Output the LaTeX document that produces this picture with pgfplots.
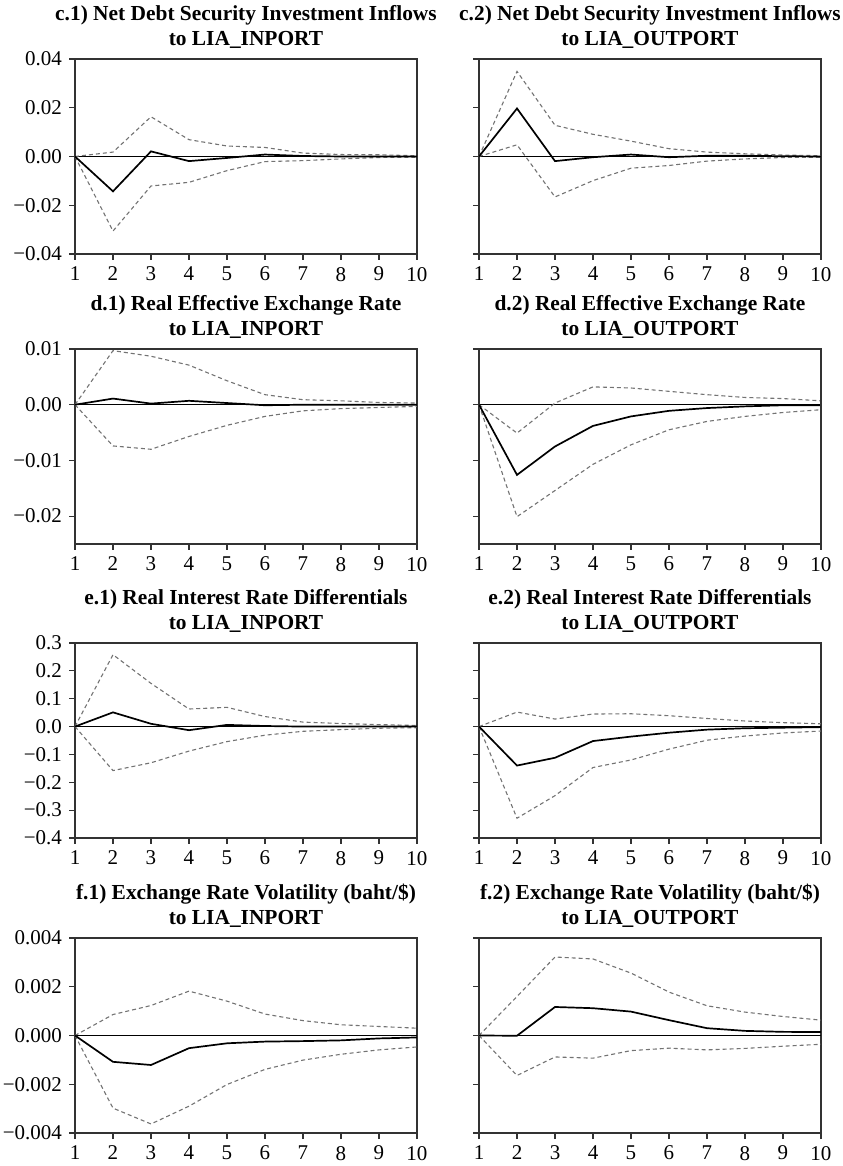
\documentclass[border=0pt]{standalone}
\usepackage{fontspec}
\setmainfont{Liberation Serif}
\usepackage{pgfplots}
\usepackage{pgfplotstable}
\pgfplotsset{compat=1.18}

\definecolor{bandgray}{RGB}{115,115,115}
\definecolor{framegray}{RGB}{50,50,50}

% h mid up lo
\pgfplotstableread{
h mid up lo
1 0 0 0
2 -0.0143 0.0018 -0.0306
3 0.0021 0.0163 -0.0121
4 -0.0019 0.0069 -0.0106
5 -0.0006 0.0043 -0.0058
6 0.0008 0.0037 -0.0021
7 0.0002 0.0014 -0.0017
8 0.0000 0.0008 -0.0010
9 0.0000 0.0007 -0.0004
10 0.0000 0.0003 -0.0003
}\tcone
\pgfplotstableread{
h mid up lo
1 0 0 0
2 0.0197 0.0349 0.0048
3 -0.0019 0.0128 -0.0166
4 -0.0003 0.0091 -0.0099
5 0.0008 0.0063 -0.0048
6 -0.0003 0.0032 -0.0037
7 0.0003 0.0018 -0.0019
8 0.0003 0.0011 -0.0010
9 0.0001 0.0006 -0.0004
10 0.0000 0.0003 -0.0003
}\tctwo
\pgfplotstableread{
h mid up lo
1 0 0 0
2 0.0011 0.0097 -0.0074
3 0.0002 0.0087 -0.0080
4 0.0007 0.0071 -0.0057
5 0.0003 0.0043 -0.0037
6 -0.0001 0.0018 -0.0021
7 0.0000 0.0009 -0.0011
8 0.0000 0.0007 -0.0007
9 0.0000 0.0004 -0.0005
10 0.0000 0.0003 -0.0003
}\tdone
\pgfplotstableread{
h mid up lo
1 0 0 0
2 -0.0126 -0.0051 -0.0201
3 -0.0075 0.0003 -0.0154
4 -0.0038 0.0032 -0.0107
5 -0.0021 0.0030 -0.0072
6 -0.0011 0.0024 -0.0045
7 -0.0006 0.0018 -0.0030
8 -0.0003 0.0013 -0.0021
9 -0.0001 0.0011 -0.0014
10 -0.0001 0.0007 -0.0009
}\tdtwo
\pgfplotstableread{
h mid up lo
1 0 0 0
2 0.051 0.258 -0.158
3 0.010 0.155 -0.130
4 -0.013 0.063 -0.088
5 0.006 0.069 -0.054
6 0.002 0.036 -0.031
7 0.000 0.016 -0.017
8 0.000 0.011 -0.011
9 0.000 0.007 -0.006
10 0.000 0.004 -0.004
}\teone
\pgfplotstableread{
h mid up lo
1 0 0 0
2 -0.140 0.052 -0.329
3 -0.112 0.027 -0.248
4 -0.052 0.045 -0.147
5 -0.036 0.046 -0.120
6 -0.022 0.039 -0.081
7 -0.011 0.029 -0.049
8 -0.006 0.020 -0.034
9 -0.004 0.014 -0.023
10 -0.002 0.010 -0.016
}\tetwo
\pgfplotstableread{
h mid up lo
1 0 0 0
2 -0.00108 0.00086 -0.00298
3 -0.00121 0.00123 -0.00363
4 -0.00052 0.00182 -0.00290
5 -0.00032 0.00141 -0.00201
6 -0.00025 0.00088 -0.00139
7 -0.00023 0.00061 -0.00101
8 -0.00020 0.00044 -0.00077
9 -0.00012 0.00037 -0.00059
10 -0.00008 0.00030 -0.00047
}\tfone
\pgfplotstableread{
h mid up lo
1 0 0 0
2 -0.00001 0.00160 -0.00164
3 0.00117 0.00322 -0.00088
4 0.00112 0.00314 -0.00093
5 0.00098 0.00256 -0.00062
6 0.00063 0.00178 -0.00052
7 0.00030 0.00122 -0.00059
8 0.00019 0.00096 -0.00053
9 0.00015 0.00078 -0.00044
10 0.00014 0.00063 -0.00036
}\tftwo

\pgfplotsset{
  irf/.style={
    scale only axis, width=171pt, height=97.5pt,
    anchor=south west,
    xmin=1, xmax=10, xtick={1,...,10},
    scaled y ticks=false,
    tick align=outside, tick pos=left,
    major tick length=3pt,
    axis line style={framegray, line width=0.6pt},
    tick style={framegray, line width=0.6pt},
    tick label style={font=\fontsize{10.5}{12}\selectfont},
    /pgf/number format/assume math mode=true,
    title style={font=\bfseries\fontsize{10.7}{12.5}\selectfont, align=center,
      anchor=south, inner sep=0pt, yshift=-1pt},
  },
  mid/.style={black, line width=0.85pt},
  band/.style={bandgray, dash pattern=on 2pt off 1.5pt, line width=0.55pt},
  zero/.style={black, line width=0.5pt},
  cax/.style={ymin=-0.04, ymax=0.04, ytick={-0.04,-0.02,0,0.02,0.04}},
  dax/.style={ymin=-0.025, ymax=0.01, ytick={-0.02,-0.01,0,0.01}},
  eax/.style={ymin=-0.4, ymax=0.3, ytick={-0.4,-0.3,-0.2,-0.1,0,0.1,0.2,0.3}},
  fax/.style={ymin=-0.004, ymax=0.004, ytick={-0.004,-0.002,0,0.002,0.004}},
}

\newcommand{\irfplots}[1]{%
  \addplot[zero] coordinates {(1,0) (10,0)};
  \addplot[band] table[x=h, y=up] {#1};
  \addplot[band] table[x=h, y=lo] {#1};
  \addplot[mid] table[x=h, y=mid] {#1};
}

\begin{document}
\begin{tikzpicture}
\useasboundingbox (0,0) rectangle (421pt,583pt);

\begin{axis}[irf, cax, at={(37.5pt,456pt)},
  yticklabels={−0.04,−0.02,0.00,0.02,0.04},
  title={c.1) Net Debt Security Investment Inflows\\to LIA\_INPORT}]
\irfplots{\tcone}
\end{axis}
\begin{axis}[irf, cax, at={(239.5pt,456pt)}, yticklabels={},
  title={c.2) Net Debt Security Investment Inflows\\to LIA\_OUTPORT}]
\irfplots{\tctwo}
\end{axis}

\begin{axis}[irf, dax, at={(37.5pt,311pt)},
  yticklabels={−0.02,−0.01,0.00,0.01},
  title={d.1) Real Effective Exchange Rate\\to LIA\_INPORT}]
\irfplots{\tdone}
\end{axis}
\begin{axis}[irf, dax, at={(239.5pt,311pt)}, yticklabels={},
  title={d.2) Real Effective Exchange Rate\\to LIA\_OUTPORT}]
\irfplots{\tdtwo}
% this panel's frame is heavier on the right and bottom in the source
\draw[framegray, line width=1.1pt] (rel axis cs:0,0) -- (rel axis cs:1,0) -- (rel axis cs:1,1);
\end{axis}

\begin{axis}[irf, eax, at={(37.5pt,164pt)},
  yticklabels={−0.4,−0.3,−0.2,−0.1,0.0,0.1,0.2,0.3},
  title={e.1) Real Interest Rate Differentials\\to LIA\_INPORT}]
\irfplots{\teone}
\end{axis}
\begin{axis}[irf, eax, at={(239.5pt,164pt)}, yticklabels={},
  title={e.2) Real Interest Rate Differentials\\to LIA\_OUTPORT}]
\irfplots{\tetwo}
\end{axis}

\begin{axis}[irf, fax, at={(37.5pt,16.5pt)},
  yticklabels={−0.004,−0.002,0.000,0.002,0.004},
  title={f.1) Exchange Rate Volatility (baht/\$)\\to LIA\_INPORT}]
\irfplots{\tfone}
\end{axis}
\begin{axis}[irf, fax, at={(239.5pt,16.5pt)}, yticklabels={},
  title={f.2) Exchange Rate Volatility (baht/\$)\\to LIA\_OUTPORT}]
\irfplots{\tftwo}
\end{axis}
\end{tikzpicture}
\end{document}
